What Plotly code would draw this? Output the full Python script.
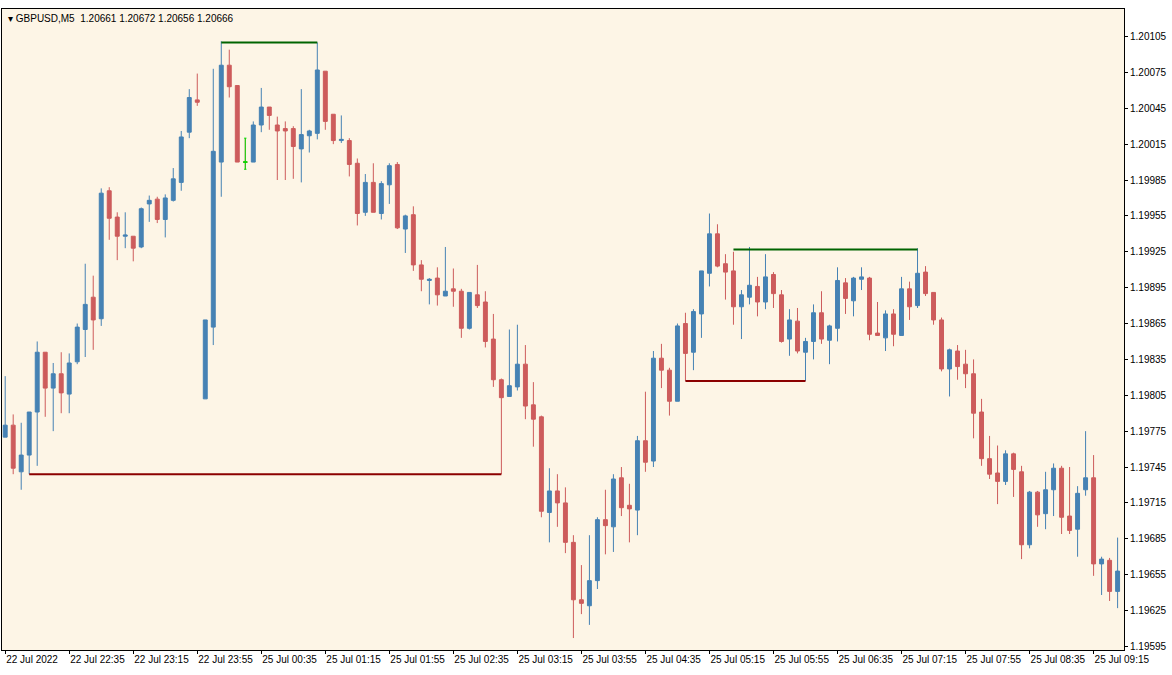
import plotly.graph_objects as go

opens = [1.19770,1.19780,1.19741,1.19755,1.19791,1.19841,1.19811,1.19823,1.19806,1.19833,
1.19860,1.19887,1.19869,1.19976,1.19954,1.19938,1.19938,1.19929,1.19965,1.19969,
1.19952,1.19968,1.19983,1.20025,1.20052,1.19802,1.19862,1.20000,1.20081,1.20064,
1.20000,1.20000,1.20031,1.20046,1.20031,1.20028,1.20028,1.20011,1.20022,1.20024,
1.20076,1.20040,1.20018,1.20018,1.19999,1.19958,1.19983,1.19957,1.19981,1.19998,
1.19944,1.19956,1.19914,1.19901,1.19903,1.19888,1.19894,1.19892,1.19861,1.19889,
1.19883,1.19852,1.19818,1.19804,1.19812,1.19831,1.19797,1.19787,1.19707,1.19725,
1.19715,1.19682,1.19634,1.19629,1.19650,1.19701,1.19695,1.19736,1.19713,1.19709,
1.19767,1.19750,1.19836,1.19826,1.19800,1.19865,1.19841,1.19873,1.19907,1.19940,
1.19915,1.19909,1.19879,1.19887,1.19896,1.19883,1.19906,1.19889,1.19852,1.19867,
1.19841,1.19850,1.19874,1.19851,1.19861,1.19899,1.19884,1.19902,1.19903,1.19857,
1.19853,1.19873,1.19855,1.19894,1.19880,1.19908,1.19891,1.19868,1.19827,1.19842,
1.19831,1.19823,1.19791,1.19752,1.19740,1.19733,1.19756,1.19741,1.19680,1.19724,
1.19706,1.19726,1.19744,1.19704,1.19693,1.19726,1.19736,1.19664,1.19667,1.19641]
highs = [1.19821,1.19789,1.19782,1.19791,1.19850,1.19841,1.19832,1.19841,1.19840,1.19865,
1.19915,1.19905,1.19978,1.19979,1.19958,1.19958,1.19938,1.19962,1.19972,1.19971,
1.19973,1.19995,1.20026,1.20061,1.20074,1.19868,1.20078,1.20101,1.20094,1.20064,
1.20020,1.20034,1.20062,1.20046,1.20038,1.20034,1.20030,1.20061,1.20027,1.20100,
1.20076,1.20040,1.20039,1.20020,1.20003,1.19990,1.19999,1.19984,1.19999,1.20000,
1.19956,1.19963,1.19918,1.19903,1.19912,1.19929,1.19911,1.19894,1.19891,1.19914,
1.19892,1.19873,1.19819,1.19860,1.19864,1.19847,1.19816,1.19788,1.19744,1.19739,
1.19728,1.19688,1.19663,1.19688,1.19703,1.19726,1.19739,1.19745,1.19731,1.19771,
1.19808,1.19842,1.19848,1.19828,1.19865,1.19874,1.19877,1.19909,1.19957,1.19948,
1.19923,1.19925,1.19893,1.19929,1.19904,1.19923,1.19908,1.19893,1.19877,1.19878,
1.19853,1.19881,1.19892,1.19864,1.19912,1.19903,1.19904,1.19912,1.19904,1.19883,
1.19876,1.19877,1.19904,1.19900,1.19928,1.19913,1.19891,1.19870,1.19844,1.19847,
1.19843,1.19835,1.19802,1.19771,1.19763,1.19759,1.19757,1.19746,1.19725,1.19725,
1.19741,1.19748,1.19746,1.19745,1.19729,1.19775,1.19755,1.19670,1.19669,1.19686]
lows = [1.19770,1.19739,1.19726,1.19739,1.19746,1.19787,1.19775,1.19790,1.19790,1.19831,
1.19837,1.19843,1.19863,1.19935,1.19918,1.19928,1.19917,1.19928,1.19950,1.19949,
1.19937,1.19967,1.19976,1.20020,1.20047,1.19802,1.19847,1.19971,1.20054,1.20000,
1.19994,1.20000,1.20025,1.20027,1.19985,1.19985,1.19986,1.19983,1.20008,1.20019,
1.20027,1.20015,1.20016,1.19988,1.19947,1.19955,1.19958,1.19952,1.19965,1.19944,
1.19924,1.19909,1.19892,1.19881,1.19880,1.19888,1.19879,1.19853,1.19860,1.19878,
1.19845,1.19812,1.19739,1.19804,1.19809,1.19785,1.19762,1.19703,1.19682,1.19695,
1.19673,1.19602,1.19622,1.19613,1.19643,1.19672,1.19674,1.19704,1.19682,1.19688,
1.19741,1.19745,1.19811,1.19788,1.19800,1.19817,1.19826,1.19853,1.19896,1.19912,
1.19885,1.19864,1.19852,1.19881,1.19871,1.19877,1.19878,1.19849,1.19838,1.19840,
1.19817,1.19835,1.19848,1.19831,1.19850,1.19873,1.19871,1.19893,1.19851,1.19855,
1.19842,1.19846,1.19855,1.19868,1.19878,1.19888,1.19864,1.19825,1.19804,1.19818,
1.19811,1.19769,1.19746,1.19735,1.19714,1.19730,1.19720,1.19668,1.19677,1.19695,
1.19693,1.19704,1.19689,1.19689,1.19670,1.19721,1.19654,1.19638,1.19633,1.19627]
closes = [1.19780,1.19744,1.19755,1.19791,1.19841,1.19811,1.19823,1.19807,1.19832,1.19862,
1.19881,1.19868,1.19974,1.19953,1.19938,1.19939,1.19928,1.19961,1.19968,1.19952,
1.19970,1.19986,1.20021,1.20054,1.20050,1.19868,1.20009,1.20081,1.20063,1.20000,
1.20000,1.20031,1.20046,1.20039,1.20026,1.20026,1.20013,1.20023,1.20026,1.20077,
1.20034,1.20018,1.20019,1.19998,1.19957,1.19983,1.19958,1.19982,1.19997,1.19945,
1.19955,1.19914,1.19902,1.19902,1.19889,1.19892,1.19892,1.19861,1.19891,1.19880,
1.19850,1.19818,1.19803,1.19813,1.19831,1.19796,1.19785,1.19708,1.19725,1.19715,
1.19682,1.19634,1.19631,1.19650,1.19701,1.19696,1.19735,1.19711,1.19710,1.19767,
1.19749,1.19836,1.19826,1.19800,1.19863,1.19840,1.19875,1.19909,1.19940,1.19913,
1.19908,1.19879,1.19889,1.19897,1.19883,1.19904,1.19890,1.19850,1.19868,1.19842,
1.19850,1.19874,1.19852,1.19863,1.19901,1.19886,1.19903,1.19904,1.19856,1.19855,
1.19873,1.19856,1.19894,1.19879,1.19907,1.19890,1.19868,1.19827,1.19843,1.19829,
1.19823,1.19790,1.19752,1.19739,1.19733,1.19756,1.19743,1.19680,1.19724,1.19705,
1.19726,1.19744,1.19703,1.19692,1.19723,1.19736,1.19664,1.19668,1.19641,1.19658]

tick_labels = ["22 Jul 2022","22 Jul 22:35","22 Jul 23:15","22 Jul 23:55","25 Jul 00:35",
"25 Jul 01:15","25 Jul 01:55","25 Jul 02:35","25 Jul 03:15","25 Jul 03:55","25 Jul 04:35",
"25 Jul 05:15","25 Jul 05:55","25 Jul 06:35","25 Jul 07:15","25 Jul 07:55","25 Jul 08:35","25 Jul 09:15"]
tick_bars = [0,8,16,24,32,40,48,56,64,72,80,88,96,104,112,120,128,136]
price_ticks = [1.19595,1.19625,1.19655,1.19685,1.19715,1.19745,1.19775,1.19805,1.19835,1.19865,
1.19895,1.19925,1.19955,1.19985,1.20015,1.20045,1.20075,1.20105]

# horizontal level lines: (start bar, end bar, price, colour)
levels = [(3,62,1.19739,"#8B0000"),(27,39,1.20100,"#006400"),
          (91,114,1.19927,"#006400"),(85,100,1.19817,"#8B0000")]

n = len(opens)
xs = list(range(n))
BULL, BEAR = "#4682B4", "#CD5C5C"

fig = go.Figure()
fig.add_trace(go.Candlestick(
    x=xs, open=opens, high=highs, low=lows, close=closes,
    increasing=dict(line=dict(color=BULL, width=1), fillcolor=BULL),
    decreasing=dict(line=dict(color=BEAR, width=1), fillcolor=BEAR),
    whiskerwidth=0, showlegend=False, hoverinfo="skip"))
dj = [i for i in xs if opens[i] == closes[i] and highs[i] > lows[i] and closes[i] != lows[i]]
if dj:
    fig.add_trace(go.Candlestick(
        x=dj, open=[opens[i] for i in dj], high=[highs[i] for i in dj],
        low=[lows[i] for i in dj], close=[closes[i] for i in dj],
        increasing=dict(line=dict(color="#00E000", width=1)),
        decreasing=dict(line=dict(color="#00E000", width=1)),
        whiskerwidth=0.6, showlegend=False, hoverinfo="skip"))
for a, b, p, c in levels:
    fig.add_trace(go.Scatter(x=[a, b], y=[p, p], mode="lines",
                             line=dict(color=c, width=2), showlegend=False, hoverinfo="skip"))

fig.update_layout(
    width=1172, height=675, margin=dict(l=2, r=48, t=9, b=25),
    paper_bgcolor="#FFFFFF", plot_bgcolor="#FDF5E6",
    font=dict(family="Liberation Sans, Arial", size=10, color="#000000"),
    xaxis=dict(range=[-0.4, 139.8], tickvals=tick_bars, ticktext=tick_labels,
               ticklabelposition="outside right",
               showgrid=False, zeroline=False, rangeslider=dict(visible=False),
               ticks="outside", ticklen=3, tickcolor="#000", showline=True,
               linecolor="#000", mirror=True, fixedrange=True),
    yaxis=dict(range=[1.19592, 1.20128], side="right", tickvals=price_ticks,
               ticktext=[f"{v:.5f}" for v in price_ticks], showgrid=False,
               zeroline=False, ticks="outside", ticklen=3, tickcolor="#000",
               showline=True, linecolor="#000", mirror=True),
)
fig.add_annotation(xref="paper", yref="paper", x=0.004, y=0.997, xanchor="left", yanchor="top",
                   text="▾ GBPUSD,M5  1.20661 1.20672 1.20656 1.20666", showarrow=False,
                   font=dict(size=10, color="#000"))
fig.write_html("out.html", config={"displayModeBar": False},
               post_script="document.body.style.margin='0';document.body.style.overflow='hidden';")
